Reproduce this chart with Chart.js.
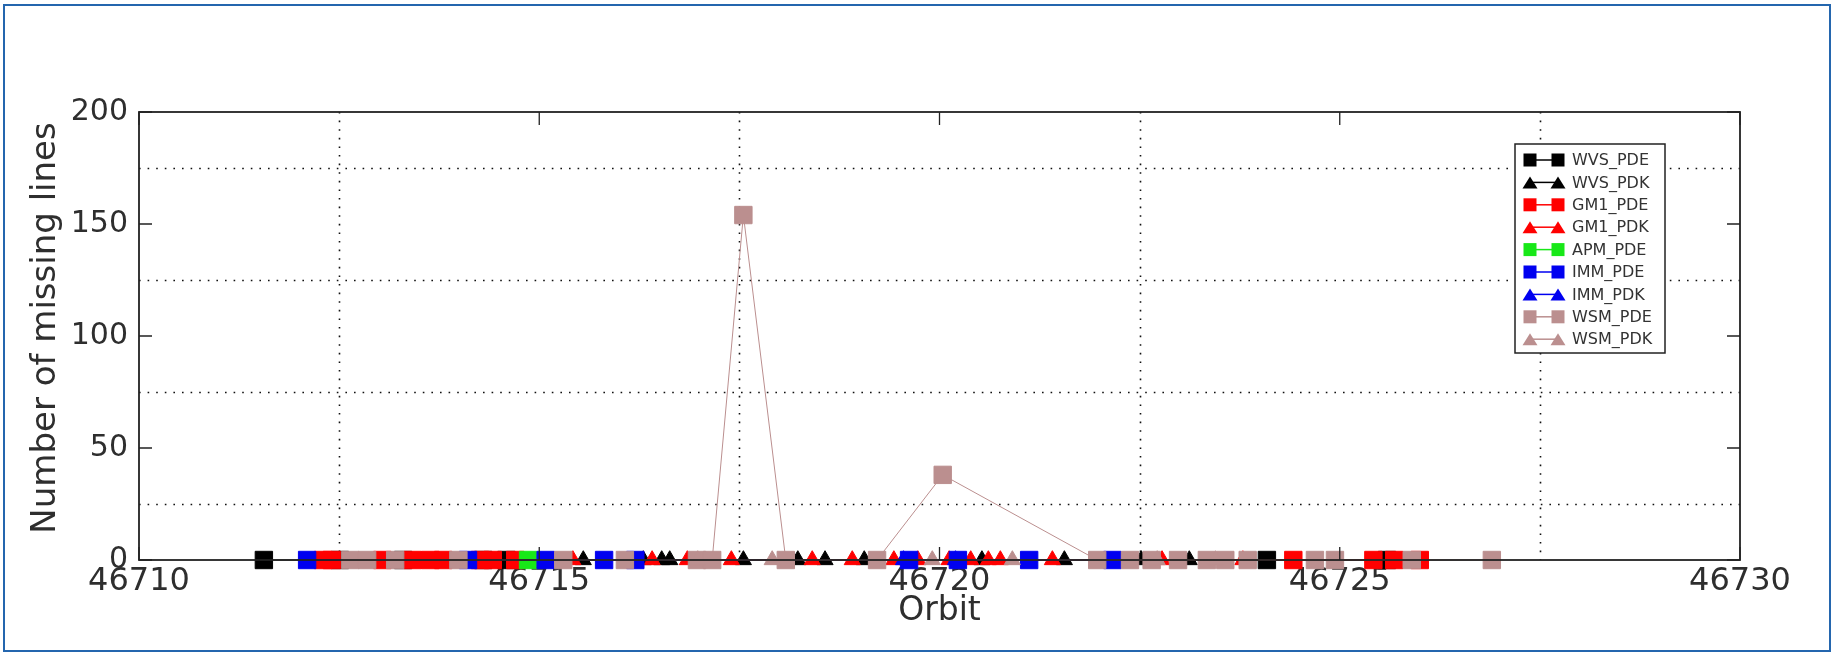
<!DOCTYPE html>
<html><head><meta charset="utf-8">
<script src="https://cdn.jsdelivr.net/npm/chart.js"></script>
<style>
html,body{margin:0;padding:0;background:#fff;}
#wrap{position:relative;width:1835px;height:656px;overflow:hidden;}
#frame{position:absolute;left:3px;top:4px;width:1824px;height:644px;border:2px solid #2466ae;pointer-events:none;}
canvas{display:block;}
</style></head><body>
<div id="wrap"><canvas id="c" width="1835" height="656"></canvas><div id="frame"></div></div>
<script>
// ---------------- data ----------------
const seriesNames = ['WVS_PDE','WVS_PDK','GM1_PDE','GM1_PDK','APM_PDE','IMM_PDE','IMM_PDK','WSM_PDE','WSM_PDK'];

const wvsPdeOrbit = [46711.56, 46712.51, 46713.30, 46714.30, 46714.59, 46724.09, 46725.59];
const wvsPdeLines = [0, 0, 0, 0, 0, 0, 0];

const wvsPdkOrbit = [46715.55, 46716.30, 46716.53, 46716.63, 46717.55, 46718.23, 46718.57, 46719.06, 46720.53, 46721.56, 46722.52, 46723.12];
const wvsPdkLines = [0, 0, 0, 0, 0, 0, 0, 0, 0, 0, 0, 0];

const gm1PdeOrbit = [46712.30, 46712.41, 46713.04, 46713.42, 46713.64, 46713.80, 46714.26, 46714.42, 46714.70, 46724.42, 46725.42, 46725.68, 46726.00];
const gm1PdeLines = [0, 0, 0, 0, 0, 0, 0, 0, 0, 0, 0, 0, 0];

const gm1PdkOrbit = [46715.42, 46716.41, 46716.85, 46717.40, 46718.41, 46718.91, 46719.43, 46719.73, 46720.12, 46720.39, 46720.61, 46720.76, 46721.41, 46722.78, 46723.79];
const gm1PdkLines = [0, 0, 0, 0, 0, 0, 0, 0, 0, 0, 0, 0, 0, 0, 0];

const apmPdeOrbit = [46714.86];
const apmPdeLines = [0];

const immPdeOrbit = [46712.10, 46714.11, 46715.08, 46715.81, 46716.20, 46719.62, 46720.23, 46721.12, 46722.16];
const immPdeLines = [0, 0, 0, 0, 0, 0, 0, 0, 0];

const immPdkOrbit = [46719.55, 46720.20];
const immPdkLines = [0, 0];

const wsmPdeOrbit = [46712.64, 46712.85, 46713.20, 46713.99, 46715.30, 46716.07, 46716.97, 46717.16, 46717.55, 46718.08, 46719.22, 46720.04, 46721.97, 46722.38, 46722.65, 46722.98, 46723.34, 46723.57, 46723.85, 46724.69, 46724.94, 46725.90, 46726.90];
const wsmPdeLines = [0, 0, 0, 0, 0, 0, 0, 0, 154, 0, 0, 38, 0, 0, 0, 0, 0, 0, 0, 0, 0, 0, 0];

const wsmPdkOrbit = [46716.98, 46717.91, 46719.91, 46720.91, 46722.72, 46723.45];
const wsmPdkLines = [0, 0, 0, 0, 0, 0];

const xTickValues = [46710, 46715, 46720, 46725, 46730];
const yTickValues = [0, 50, 100, 150, 200];
const xGridValues = [46712.5, 46717.5, 46722.5, 46727.5];
const yGridValues = [25, 75, 125, 175];
const xTitle = 'Orbit';
const yTitle = 'Number of missing lines';

// ---------------- styles ----------------
const seriesColors = ['#000000','#000000','#ff0000','#ff0000','#18e818','#0000f0','#0000f0','#bb8f8f','#bb8f8f'];
const seriesShapes = ['rect','triangle','rect','triangle','rect','rect','triangle','rect','triangle'];

const orbitsList = [wvsPdeOrbit, wvsPdkOrbit, gm1PdeOrbit, gm1PdkOrbit, apmPdeOrbit, immPdeOrbit, immPdkOrbit, wsmPdeOrbit, wsmPdkOrbit];
const linesList  = [wvsPdeLines, wvsPdkLines, gm1PdeLines, gm1PdkLines, apmPdeLines, immPdeLines, immPdkLines, wsmPdeLines, wsmPdkLines];

const FONT = "'DejaVu Sans', 'Liberation Sans', sans-serif";
const TXT = '#2e2e2e';

const datasets = seriesNames.map((name, i) => ({
  label: name,
  data: orbitsList[i].map((o, k) => ({x: o, y: linesList[i][k]})),
  showLine: true,
  borderColor: seriesColors[i],
  backgroundColor: seriesColors[i],
  pointBorderColor: seriesColors[i],
  pointBackgroundColor: seriesColors[i],
  pointStyle: seriesShapes[i],
  pointRadius: seriesShapes[i] === 'rect' ? 12.3 : 9.3,
  pointBorderWidth: 1,
  borderWidth: 1,
  clip: false,
  order: seriesNames.length - i
}));

function drawSquare(ctx, x, y, s) { ctx.fillRect(x - s/2, y - s/2, s, s); }
function drawTri(ctx, x, y, w, h) {
  ctx.beginPath(); ctx.moveTo(x, y - h/2); ctx.lineTo(x + w/2, y + h/2); ctx.lineTo(x - w/2, y + h/2); ctx.closePath(); ctx.fill();
}

const decor = {
  id: 'decor',
  beforeDatasetsDraw(chart) {
    const {ctx, chartArea: a, scales: {x, y}} = chart;
    ctx.save();
    ctx.strokeStyle = '#111'; ctx.lineWidth = 1.6; ctx.setLineDash([1.6, 7]);
    yGridValues.forEach(v => {
      const py = Math.round(y.getPixelForValue(v)) + 0.5;
      ctx.beginPath(); ctx.moveTo(a.left, py); ctx.lineTo(a.right, py); ctx.stroke();
    });
    xGridValues.forEach(v => {
      const px = Math.round(x.getPixelForValue(v)) + 0.5;
      ctx.beginPath(); ctx.moveTo(px, a.top); ctx.lineTo(px, a.bottom); ctx.stroke();
    });
    ctx.restore();
  },
  afterDatasetsDraw(chart) {
    const {ctx, chartArea: a, scales: {x, y}} = chart;
    ctx.save();
    ctx.setLineDash([]);
    ctx.strokeStyle = '#222'; ctx.lineWidth = 1.8;
    ctx.strokeRect(a.left, a.top, a.right - a.left, a.bottom - a.top);
    const TL = 13;
    ctx.lineWidth = 1.3;
    yTickValues.forEach(v => {
      const py = y.getPixelForValue(v);
      ctx.beginPath(); ctx.moveTo(a.left, py); ctx.lineTo(a.left + TL, py);
      ctx.moveTo(a.right, py); ctx.lineTo(a.right - TL, py); ctx.stroke();
    });
    xTickValues.forEach(v => {
      const px = x.getPixelForValue(v);
      ctx.beginPath(); ctx.moveTo(px, a.bottom); ctx.lineTo(px, a.bottom - TL);
      ctx.moveTo(px, a.top); ctx.lineTo(px, a.top + TL); ctx.stroke();
    });
    // y axis title
    ctx.save();
    ctx.translate(46, 328); ctx.rotate(-Math.PI / 2);
    ctx.font = '34px ' + FONT; ctx.fillStyle = TXT; ctx.textAlign = 'center'; ctx.textBaseline = 'middle';
    ctx.fillText(yTitle, 0, 0);
    ctx.restore();
    // legend
    const lx = 1515, ly = 144, lw = 150, lh = 209;
    ctx.fillStyle = '#fff'; ctx.fillRect(lx, ly, lw, lh);
    ctx.strokeStyle = '#222'; ctx.lineWidth = 1.5; ctx.strokeRect(lx, ly, lw, lh);
    ctx.font = '16px ' + FONT; ctx.textBaseline = 'middle'; ctx.textAlign = 'left';
    seriesNames.forEach((name, i) => {
      const cy = 160 + i * 22.4;
      const c = seriesColors[i];
      ctx.strokeStyle = c; ctx.fillStyle = c; ctx.lineWidth = 1.5;
      ctx.beginPath(); ctx.moveTo(1530, cy); ctx.lineTo(1558, cy); ctx.stroke();
      if (seriesShapes[i] === 'rect') { drawSquare(ctx, 1530, cy, 13); drawSquare(ctx, 1558, cy, 13); }
      else { drawTri(ctx, 1530, cy, 15, 12); drawTri(ctx, 1558, cy, 15, 12); }
      ctx.fillStyle = '#333';
      ctx.fillText(name, 1572, cy + 1);
    });
    ctx.restore();
  }
};

new Chart(document.getElementById('c'), {
  type: 'scatter',
  data: { datasets },
  options: {
    responsive: false,
    devicePixelRatio: 1,
    animation: false,
    events: [],
    layout: { padding: { top: 112, right: 95, left: 0, bottom: 0 } },
    plugins: { legend: { display: false }, tooltip: { enabled: false } },
    elements: { line: { tension: 0 } },
    scales: {
      x: {
        type: 'linear', min: 46710, max: 46730,
        afterBuildTicks: s => { s.ticks = xTickValues.map(v => ({ value: v })); },
        ticks: { font: { family: FONT, size: 32 }, color: TXT, padding: 2, maxRotation: 0, autoSkip: false, callback: v => String(v) },
        grid: { display: false, drawTicks: false },
        border: { display: false },
        title: { display: true, text: xTitle, font: { family: FONT, size: 33 }, color: TXT, padding: { top: 0, bottom: 25 } },
        afterFit: s => { s.height = 96; }
      },
      y: {
        type: 'linear', min: 0, max: 200,
        afterBuildTicks: s => { s.ticks = yTickValues.map(v => ({ value: v })); },
        ticks: { font: { family: FONT, size: 30 }, color: TXT, padding: 11, autoSkip: false, callback: v => String(v) },
        grid: { display: false, drawTicks: false },
        border: { display: false },
        title: { display: false },
        afterFit: s => { s.width = 139; }
      }
    }
  },
  plugins: [decor]
});
</script>
</body></html>
